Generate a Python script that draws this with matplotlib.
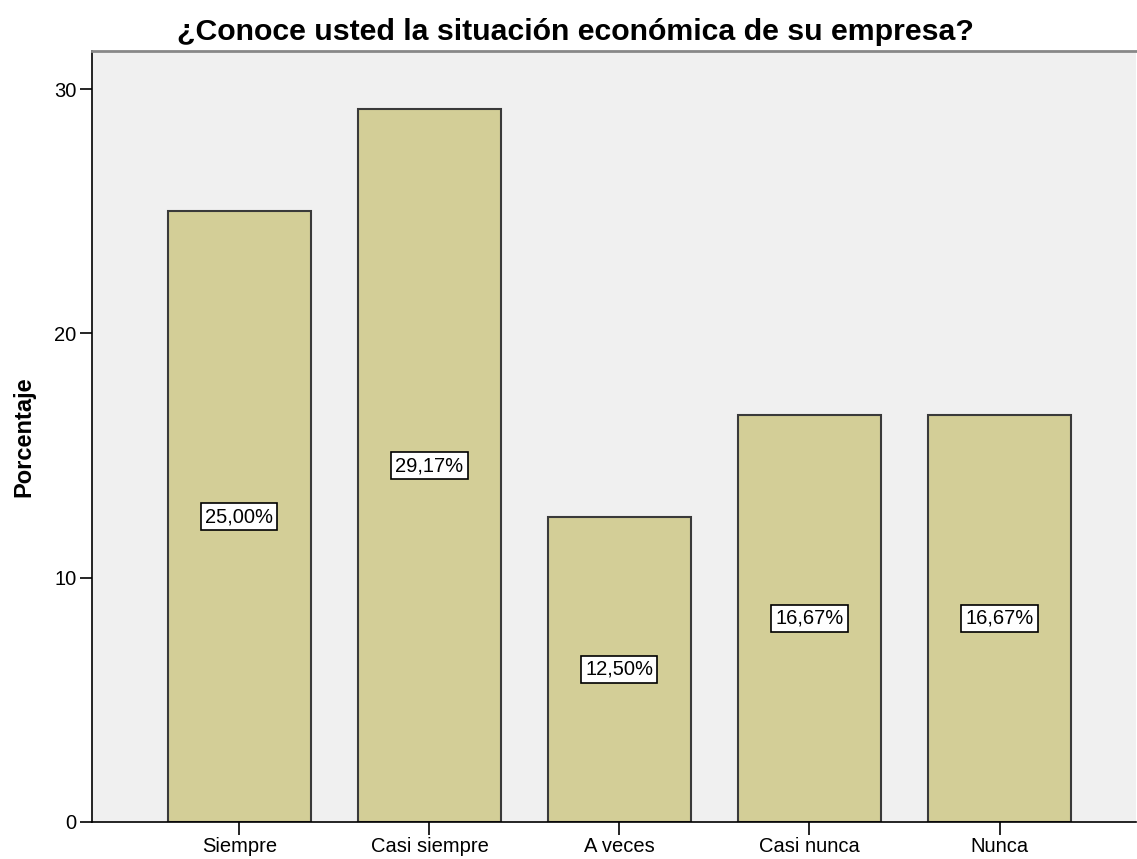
import matplotlib.pyplot as plt

categorias = ['Siempre', 'Casi siempre', 'A veces', 'Casi nunca', 'Nunca']
porcentajes = [25.00, 29.17, 12.50, 16.67, 16.67]
etiquetas = ['25,00%', '29,17%', '12,50%', '16,67%', '16,67%']

plt.rcParams['font.family'] = ['Liberation Sans', 'DejaVu Sans']

fig = plt.figure(figsize=(11.37, 8.59), dpi=100)
ax = fig.add_axes([0.0809, 0.0431, 0.9185, 0.8975])
ax.set_facecolor('#F0F0F0')

x = range(len(categorias))
bars = ax.bar(x, porcentajes, width=0.75, color='#D3CE97',
              edgecolor='#3A3A3A', linewidth=1.5, zorder=2)

for b, val, txt in zip(bars, porcentajes, etiquetas):
    ax.text(b.get_x() + b.get_width() / 2, val / 2, txt,
            ha='center', va='center', fontsize=14.5, zorder=3,
            bbox=dict(boxstyle='square,pad=0.2', fc='white', ec='black', lw=1.2))

ax.set_xlim(-0.776, 4.72)
ax.set_ylim(0, 31.56)
ax.set_yticks([0, 10, 20, 30])
ax.set_xticks(list(x))
ax.set_xticklabels(categorias)
ax.tick_params(axis='both', direction='out', length=9, width=1.2,
               labelsize=14.5, color='black', pad=2)

ax.spines['right'].set_visible(False)
ax.spines['top'].set_color('#888888')
ax.spines['top'].set_linewidth(2)
ax.spines['left'].set_linewidth(1.2)
ax.spines['bottom'].set_linewidth(1.2)

ax.set_ylabel('Porcentaje', fontsize=17, fontweight='bold', labelpad=14)
fig.text(0.5057, 0.9627, '¿Conoce usted la situación económica de su empresa?',
         ha='center', va='center', fontsize=21.8, fontweight='bold')

fig.savefig('out.png', dpi=100)
